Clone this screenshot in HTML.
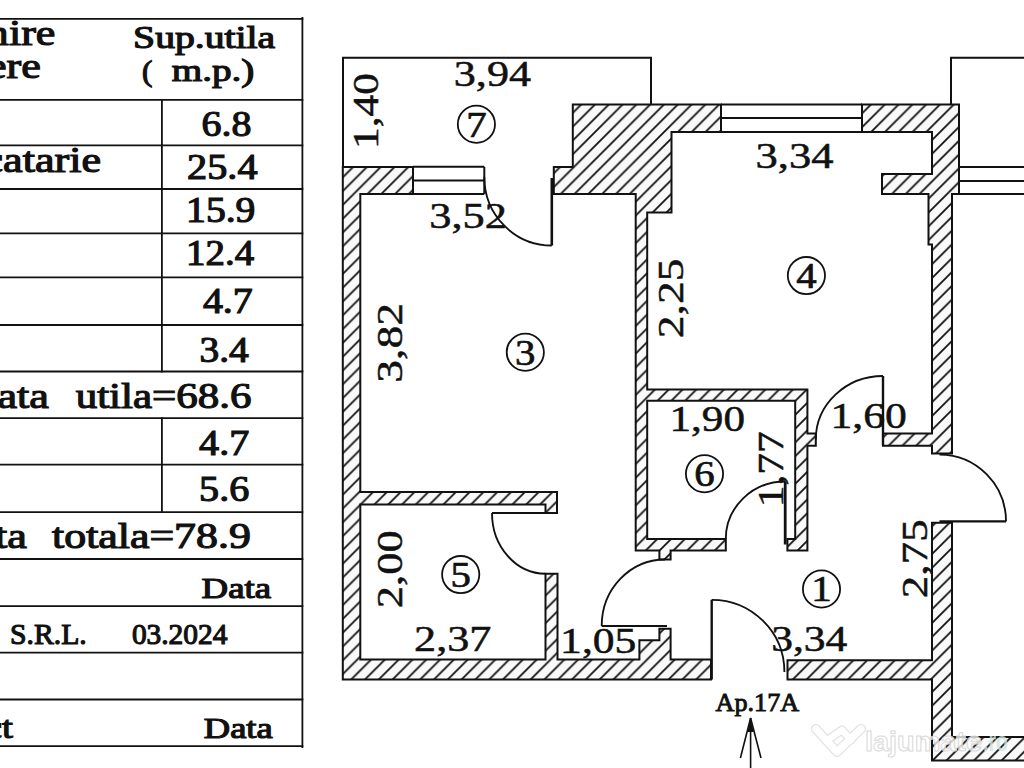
<!DOCTYPE html>
<html><head><meta charset="utf-8"><style>
html,body{margin:0;padding:0;background:#fff;width:1024px;height:768px;overflow:hidden}
svg{display:block}
.lb{font-family:"Liberation Serif",serif;fill:#111;stroke:#111;stroke-width:0.5px}
.cd{stroke-width:0.7px}
.tb{font-family:"Liberation Serif",serif;fill:#111;stroke:#111;stroke-width:1.15px}
.bd{font-family:"Liberation Serif",serif;font-weight:bold;fill:#111;stroke:#111;stroke-width:0.15px}
</style></head><body>
<svg width="1024" height="768" viewBox="0 0 1024 768">
<defs>
<pattern id="h" patternUnits="userSpaceOnUse" x="9.5" y="0" width="13.8" height="13.8">
<rect width="13.8" height="13.8" fill="#f9f9f9"/>
<path d="M -1 1 L 1 -1 M 0 13.8 L 13.8 0 M 12.8 14.8 L 14.8 12.8" stroke="#111" stroke-width="1.75"/>
</pattern>
</defs>
<rect width="1024" height="768" fill="#fff"/>
<g stroke="#111" stroke-linecap="square"><line x1="-2" y1="18.8" x2="302.4" y2="18.8" stroke-width="1.8"/><line x1="-2" y1="99.8" x2="302.4" y2="99.8" stroke-width="1.8"/><line x1="-2" y1="145.4" x2="302.4" y2="145.4" stroke-width="1.8"/><line x1="-2" y1="189" x2="302.4" y2="189" stroke-width="1.8"/><line x1="-2" y1="233.4" x2="302.4" y2="233.4" stroke-width="1.8"/><line x1="-2" y1="277.4" x2="302.4" y2="277.4" stroke-width="1.8"/><line x1="-2" y1="325" x2="302.4" y2="325" stroke-width="1.8"/><line x1="-2" y1="371.5" x2="302.4" y2="371.5" stroke-width="1.8"/><line x1="-2" y1="418.2" x2="302.4" y2="418.2" stroke-width="1.8"/><line x1="-2" y1="464.6" x2="302.4" y2="464.6" stroke-width="1.8"/><line x1="-2" y1="512.2" x2="302.4" y2="512.2" stroke-width="1.8"/><line x1="-2" y1="559" x2="302.4" y2="559" stroke-width="1.8"/><line x1="-2" y1="606.2" x2="302.4" y2="606.2" stroke-width="1.8"/><line x1="-2" y1="652.7" x2="302.4" y2="652.7" stroke-width="1.8"/><line x1="-2" y1="699.5" x2="302.4" y2="699.5" stroke-width="1.8"/><line x1="-2" y1="746.2" x2="302.4" y2="746.2" stroke-width="1.8"/><line x1="302.4" y1="18" x2="302.4" y2="747.1" stroke-width="1.8"/><line x1="161.9" y1="99.8" x2="161.9" y2="371.5" stroke-width="1.8"/><line x1="161.9" y1="418.2" x2="161.9" y2="512.2" stroke-width="1.8"/></g>
<text x="-120.9" y="44.5" class="tb" font-size="35" textLength="176.3" lengthAdjust="spacingAndGlyphs">Denumire</text><text x="-108.5" y="78.2" class="tb" font-size="35" textLength="149.3" lengthAdjust="spacingAndGlyphs">incapere</text><text x="133.1" y="47.5" class="tb" font-size="31" textLength="142.0" lengthAdjust="spacingAndGlyphs">Sup.utila</text><text x="142.0" y="81.4" class="tb" font-size="30" textLength="10.4" lengthAdjust="spacingAndGlyphs">(</text><text x="171.8" y="81.4" class="tb" font-size="31" textLength="82.6" lengthAdjust="spacingAndGlyphs">m.p.)</text><text x="201.6" y="136.4" class="tb" font-size="35" textLength="49.9" lengthAdjust="spacingAndGlyphs">6.8</text><text x="-269.1" y="172.4" class="tb" font-size="35" textLength="370.1" lengthAdjust="spacingAndGlyphs">Sufragerie+bucatarie</text><text x="187.1" y="178.5" class="tb" font-size="35" textLength="70.4" lengthAdjust="spacingAndGlyphs">25.4</text><text x="186.1" y="221.5" class="tb" font-size="35" textLength="69.3" lengthAdjust="spacingAndGlyphs">15.9</text><text x="186.1" y="264.5" class="tb" font-size="35" textLength="68.0" lengthAdjust="spacingAndGlyphs">12.4</text><text x="202.9" y="313" class="tb" font-size="35" textLength="49.9" lengthAdjust="spacingAndGlyphs">4.7</text><text x="199.5" y="362.4" class="tb" font-size="35" textLength="49.3" lengthAdjust="spacingAndGlyphs">3.4</text><text x="-120.1" y="408.4" class="tb" font-size="35" textLength="169.0" lengthAdjust="spacingAndGlyphs">Suprafata</text><text x="75.7" y="408.4" class="tb" font-size="35" textLength="175.8" lengthAdjust="spacingAndGlyphs">utila=68.6</text><text x="199.1" y="455" class="tb" font-size="35" textLength="50.1" lengthAdjust="spacingAndGlyphs">4.7</text><text x="199.1" y="500.6" class="tb" font-size="35" textLength="50.1" lengthAdjust="spacingAndGlyphs">5.6</text><text x="-142.1" y="547.5" class="tb" font-size="35" textLength="169.0" lengthAdjust="spacingAndGlyphs">Suprafata</text><text x="52.1" y="547.5" class="tb" font-size="35" textLength="198.7" lengthAdjust="spacingAndGlyphs">totala=78.9</text><text x="201.6" y="598.4" class="tb" font-size="29" textLength="69.5" lengthAdjust="spacingAndGlyphs">Data</text><text x="10.1" y="643.75" class="tb" font-size="30" textLength="76.7" lengthAdjust="spacingAndGlyphs">S.R.L.</text><text x="131.9" y="643.75" class="tb" font-size="29" textLength="95.5" lengthAdjust="spacingAndGlyphs">03.2024</text><text x="-157.4" y="737.5" class="tb" font-size="31" textLength="170.3" lengthAdjust="spacingAndGlyphs">Sef proiect</text><text x="203.8" y="737.5" class="tb" font-size="29" textLength="68.9" lengthAdjust="spacingAndGlyphs">Data</text>
<path d="M342.8 167 L413 167 L413 194 L360.3 194 L360.3 492 L557 492 L557 513 L545.5 513 L545.5 504.5 L360.3 504.5 L360.3 659.5 L545.5 659.5 L545.5 573.7 L557.5 573.7 L557.5 659.5 L639.4 659.5 L639.4 640.2 L659.4 640.2 L659.4 628.7 L670.6 628.7 L670.6 659.5 L711 659.5 L711 679.5 L342.8 679.5 Z" fill="url(#h)" stroke="#111" stroke-width="2.0" stroke-linejoin="miter"/><path d="M553.8 167 L572.8 167 L572.8 104.4 L721 104.4 L721 132 L671.5 132 L671.5 212.5 L647.2 212.5 L647.2 389.5 L807.4 389.5 L807.4 433.5 L815.8 433.5 L815.8 445.7 L807.4 445.7 L807.4 550.5 L787.4 550.5 L787.4 539 L795.2 539 L795.2 400.8 L647.2 400.8 L647.2 539 L725.8 539 L725.8 550.5 L670.6 550.5 L670.6 559.5 L659.4 559.5 L659.4 550.5 L635.7 550.5 L635.7 194 L553.8 194 Z" fill="url(#h)" stroke="#111" stroke-width="2.0" stroke-linejoin="miter"/><path d="M862 104.4 L959 104.4 L959 194 L952 194 L952 453.5 L932 453.5 L932 445.7 L883 445.7 L883 433.5 L932 433.5 L932 244.5 L928.5 244.5 L928.5 194 L882 194 L882 174 L932 174 L932 132 L862 132 Z" fill="url(#h)" stroke="#111" stroke-width="2.0" stroke-linejoin="miter"/><path d="M787.5 660.3 L932 660.3 L932 522.7 L952 522.7 L952 737 L1026 737 L1026 760.5 L932 760.5 L932 679.5 L787.5 679.5 Z" fill="url(#h)" stroke="#111" stroke-width="2.0" stroke-linejoin="miter"/>
<g stroke="#111" fill="none" stroke-linecap="butt"><polyline points="343,167 343,57.8 651,57.8 651,104.4" fill="none" stroke-width="2.0"/><polyline points="951,104.4 951,57.8 1026,57.8" fill="none" stroke-width="2.0"/><line x1="413" y1="166.8" x2="484.3" y2="166.8" stroke-width="2.0"/><line x1="413" y1="180.4" x2="484.3" y2="180.4" stroke-width="2.0"/><line x1="413" y1="193.9" x2="484.3" y2="193.9" stroke-width="2.0"/><line x1="484.3" y1="166.8" x2="484.3" y2="193.9" stroke-width="2.0"/><line x1="721" y1="104.4" x2="862" y2="104.4" stroke-width="2.0"/><line x1="721" y1="118" x2="862" y2="118" stroke-width="2.0"/><line x1="721" y1="132" x2="862" y2="132" stroke-width="2.0"/><line x1="959" y1="167" x2="1026" y2="167" stroke-width="2.0"/><line x1="959" y1="181" x2="1026" y2="181" stroke-width="2.0"/><line x1="959" y1="194" x2="1026" y2="194" stroke-width="2.0"/><line x1="551.8" y1="178" x2="551.8" y2="245.5" stroke-width="2.6"/><line x1="492" y1="513" x2="545.5" y2="513" stroke-width="2.0"/><line x1="785.2" y1="481.5" x2="785.2" y2="544.5" stroke-width="2.8"/><line x1="883" y1="376" x2="883" y2="445.7" stroke-width="2.4"/><line x1="601.7" y1="626" x2="667" y2="626" stroke-width="2.2"/><line x1="711.7" y1="599.8" x2="711.7" y2="679.5" stroke-width="2.4"/><line x1="939.5" y1="521.4" x2="1006" y2="521.4" stroke-width="2.4"/><line x1="750.6" y1="718" x2="750.6" y2="770" stroke-width="1.6"/><polyline points="740.4,758 750.6,718 761,758" fill="none" stroke-width="1.6"/><path d="M 750.6 718 L 747.6 732 L 753.6 732 Z" fill="#111" stroke="none"/><path d="M 484.3 177 A 67.5 68.5 0 0 0 551.8 245.5" fill="none" stroke-width="1.85"/><path d="M 492 513 A 53.5 60.7 0 0 0 545.5 573.7" fill="none" stroke-width="1.85"/><path d="M 725.8 539 A 59.4 57.5 0 0 1 785.2 481.5" fill="none" stroke-width="1.85"/><path d="M 815.8 439.5 A 67.2 63.5 0 0 1 883 376" fill="none" stroke-width="1.85"/><path d="M 665 559.5 A 63.3 66.5 0 0 0 601.7 626" fill="none" stroke-width="1.85"/><path d="M 711.7 599.8 A 72.7 72.2 0 0 1 784.4 672" fill="none" stroke-width="1.85"/><path d="M 939.5 454.6 A 66.5 66.8 0 0 1 1006 521.4" fill="none" stroke-width="1.85"/></g>
<circle cx="476.4" cy="124.2" r="18.6" fill="none" stroke="#111" stroke-width="1.8"/><text x="466.2" y="136.5" class="lb cd" font-size="36" textLength="20.4" lengthAdjust="spacingAndGlyphs">7</text><circle cx="525.3" cy="352.2" r="18.6" fill="none" stroke="#111" stroke-width="1.8"/><text x="515.0999999999999" y="364.5" class="lb cd" font-size="36" textLength="20.4" lengthAdjust="spacingAndGlyphs">3</text><circle cx="806.4" cy="275.6" r="18.6" fill="none" stroke="#111" stroke-width="1.8"/><text x="796.1999999999999" y="287.90000000000003" class="lb cd" font-size="36" textLength="20.4" lengthAdjust="spacingAndGlyphs">4</text><circle cx="704.5" cy="473.8" r="18.6" fill="none" stroke="#111" stroke-width="1.8"/><text x="694.3" y="486.1" class="lb cd" font-size="36" textLength="20.4" lengthAdjust="spacingAndGlyphs">6</text><circle cx="460.7" cy="574.6" r="18.6" fill="none" stroke="#111" stroke-width="1.8"/><text x="450.5" y="586.9" class="lb cd" font-size="36" textLength="20.4" lengthAdjust="spacingAndGlyphs">5</text><circle cx="821.5" cy="589" r="18.6" fill="none" stroke="#111" stroke-width="1.8"/><text x="811.3" y="601.3" class="lb cd" font-size="36" textLength="20.4" lengthAdjust="spacingAndGlyphs">1</text>
<text x="453.8" y="86.3" class="lb" font-size="36" textLength="77.2" lengthAdjust="spacingAndGlyphs">3,94</text><text x="429.2" y="227.5" class="lb" font-size="36" textLength="77.7" lengthAdjust="spacingAndGlyphs">3,52</text><text x="755.5" y="167.5" class="lb" font-size="36" textLength="78.0" lengthAdjust="spacingAndGlyphs">3,34</text><text x="669.5" y="431" class="lb" font-size="36" textLength="75.5" lengthAdjust="spacingAndGlyphs">1,90</text><text x="830.5" y="428" class="lb" font-size="36" textLength="76.4" lengthAdjust="spacingAndGlyphs">1,60</text><text x="414.1" y="650.9" class="lb" font-size="36" textLength="77.3" lengthAdjust="spacingAndGlyphs">2,37</text><text x="560.1" y="652.5" class="lb" font-size="36" textLength="76.3" lengthAdjust="spacingAndGlyphs">1,05</text><text x="771.2" y="651" class="lb" font-size="36" textLength="76.2" lengthAdjust="spacingAndGlyphs">3,34</text><text transform="translate(377.7 149.0) rotate(-90)" class="lb" font-size="36" textLength="75.9" lengthAdjust="spacingAndGlyphs">1,40</text><text transform="translate(401.5 382.8) rotate(-90)" class="lb" font-size="36" textLength="79.8" lengthAdjust="spacingAndGlyphs">3,82</text><text transform="translate(683.2 338.2) rotate(-90)" class="lb" font-size="36" textLength="79.8" lengthAdjust="spacingAndGlyphs">2,25</text><text transform="translate(783.1 507.2) rotate(-90)" class="lb" font-size="36" textLength="75.9" lengthAdjust="spacingAndGlyphs">1,77</text><text transform="translate(401.5 608.2) rotate(-90)" class="lb" font-size="36" textLength="77.9" lengthAdjust="spacingAndGlyphs">2,00</text><text transform="translate(927.0 598.2) rotate(-90)" class="lb" font-size="36" textLength="78.9" lengthAdjust="spacingAndGlyphs">2,75</text><text x="715.6" y="711.4" class="tb" font-size="26" style="stroke-width:0.9px" textLength="83.6" lengthAdjust="spacingAndGlyphs">Ap.17A</text>
<g opacity="0.9"><polyline points="816,729 837,752 861,729" fill="none" stroke="#dedede" stroke-width="10" stroke-linejoin="round" stroke-linecap="round"/><polyline points="829,739 842,730 851,740" fill="none" stroke="#dedede" stroke-width="9" stroke-linejoin="round" stroke-linecap="round"/><polyline points="816,729 837,752 861,729" fill="none" stroke="#fff" stroke-width="7.5" stroke-linejoin="round" stroke-linecap="round"/><polyline points="829,739 842,730 851,740" fill="none" stroke="#fff" stroke-width="6.5" stroke-linejoin="round" stroke-linecap="round"/><text x="865" y="751" font-family="Liberation Sans" font-weight="bold" font-size="28" fill="#fff" fill-opacity="0.85" stroke="#d6d6d6" stroke-width="1" textLength="117" lengthAdjust="spacingAndGlyphs">lajumate</text><text x="983" y="751" font-family="Liberation Sans" font-weight="bold" font-size="28" fill="#cfe6de" fill-opacity="0.9" textLength="25" lengthAdjust="spacingAndGlyphs">.ro</text></g>
</svg>
</body></html>
